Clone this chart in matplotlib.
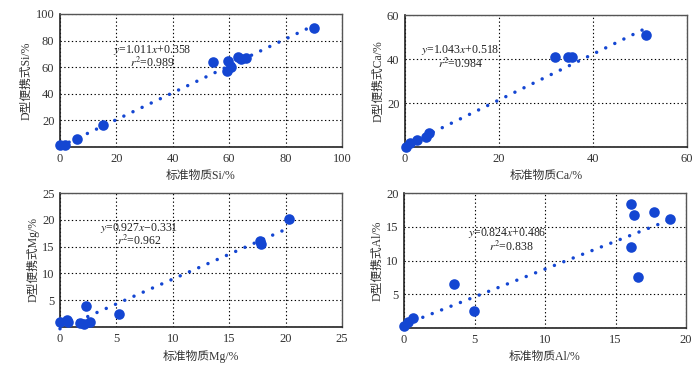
import matplotlib
matplotlib.use("Agg")
import matplotlib.pyplot as plt
import numpy as np

plt.rcParams['font.family'] = ['Liberation Serif', 'Noto Sans CJK SC']
plt.rcParams['mathtext.fontset'] = 'stix'

# ---- data ----
si_x = [0.0, 1.8, 6.1, 15.4, 54.1, 59.7, 59.3, 60.5, 63.2, 64.1, 65.8, 90.2]
si_y = [1.5, 1.5, 6.0, 16.5, 63.7, 64.7, 57.1, 60.4, 67.4, 66.2, 66.7, 89.7]
ca_x = [0.2, 1.1, 2.5, 4.4, 5.1, 31.9, 34.7, 35.6, 51.3]
ca_y = [0.2, 1.8, 3.0, 4.5, 6.2, 40.8, 40.8, 40.8, 51.0]
mg_x = [0.0, 0.65, 0.7, 1.8, 2.1, 2.3, 2.7, 5.2, 17.7, 17.8, 20.3]
mg_y = [0.9, 1.3, 0.9, 0.7, 0.5, 4.0, 0.9, 2.4, 16.0, 15.5, 20.1]
al_x = [0.0, 0.3, 0.66, 3.55, 4.98, 16.1, 16.3, 17.7, 18.9, 16.1, 16.6]
al_y = [0.3, 0.93, 1.5, 6.5, 2.5, 18.3, 16.7, 17.2, 16.1, 12.0, 7.5]

slopes = [1.011, 1.043, 0.927, 0.824]
intercepts = [0.358, 0.518, -0.331, 0.486]
eq_texts = [r'$y$=1.011$x$+0.358', r'$y$=1.043$x$+0.518',
            r'$y$=0.927$x$−0.331', r'$y$=0.824$x$+0.486']
r2_texts = [r'$r^2$=0.989', r'$r^2$=0.984', r'$r^2$=0.962', r'$r^2$=0.838']
xlabels = ['标准物质Si/%', '标准物质Ca/%', '标准物质Mg/%', '标准物质Al/%']
ylabels = ['D型便携式Si/%', 'D型便携式Ca/%', 'D型便携式Mg/%', 'D型便携式Al/%']
limits = [100, 60, 25, 20]
steps = [20, 20, 5, 5]
eq_pos = [(32.6, 73.0), (11.7, 44.1), (7.0, 18.4), (7.3, 14.0)]
r2_pos = [(32.6, 63.0), (11.7, 38.0), (7.0, 16.0), (7.6, 12.0)]

xs = [si_x, ca_x, mg_x, al_x]
ys = [si_y, ca_y, mg_y, al_y]

rects = [
    [60/700, 1-147/373, 282/700, 133/373],
    [405/700, 1-147/373, 282/700, 132/373],
    [60/700, 1-327/373, 282/700, 134/373],
    [404/700, 1-328/373, 282/700, 135/373],
]

blue = '#1446d2'
fig = plt.figure(figsize=(7.0, 3.73), dpi=100)

for i in range(4):
    ax = fig.add_axes(rects[i])
    lim = limits[i]
    ax.set_xlim(0, lim)
    ax.set_ylim(0, lim)
    ticks = np.arange(0, lim + 0.001, steps[i])
    ax.set_xticks(ticks)
    ax.set_yticks(ticks)
    ax.set_yticklabels([''] + [f'{int(t)}' for t in ticks[1:]])
    ax.tick_params(length=0, labelsize=9, pad=4, labelcolor='#333333')
    ax.grid(True, color='black', linestyle=(0, (1.2, 2.2)), linewidth=0.8)
    for s in ['left', 'bottom']:
        ax.spines[s].set_color('#222222')
        ax.spines[s].set_linewidth(1.2)
    for s in ['top', 'right']:
        ax.spines[s].set_color('#555555')
        ax.spines[s].set_linewidth(1.0)

    # trend line
    x0 = min(xs[i])
    x1 = max(xs[i])
    tx = np.array([x0, x1])
    ty = slopes[i] * tx + intercepts[i]
    ax.plot(tx, ty, color=blue, linewidth=2.5, linestyle=(0, (0.01, 2.9)),
            dash_capstyle='round', zorder=3, clip_on=False)
    ax.scatter(xs[i], ys[i], s=58, color=blue, zorder=4, clip_on=False,
               linewidths=0)

    ax.text(eq_pos[i][0], eq_pos[i][1], eq_texts[i], ha='center', va='center',
            fontsize=8.5, zorder=5, color='#222222')
    ax.text(r2_pos[i][0], r2_pos[i][1], r2_texts[i], ha='center', va='center',
            fontsize=8.5, zorder=5, color='#222222')

    ax.set_xlabel(xlabels[i], fontsize=8.5, labelpad=4, color='#333333')
    ax.set_ylabel(ylabels[i], fontsize=8.5, labelpad=2, color='#333333')

fig.savefig('out.png', dpi=100)
